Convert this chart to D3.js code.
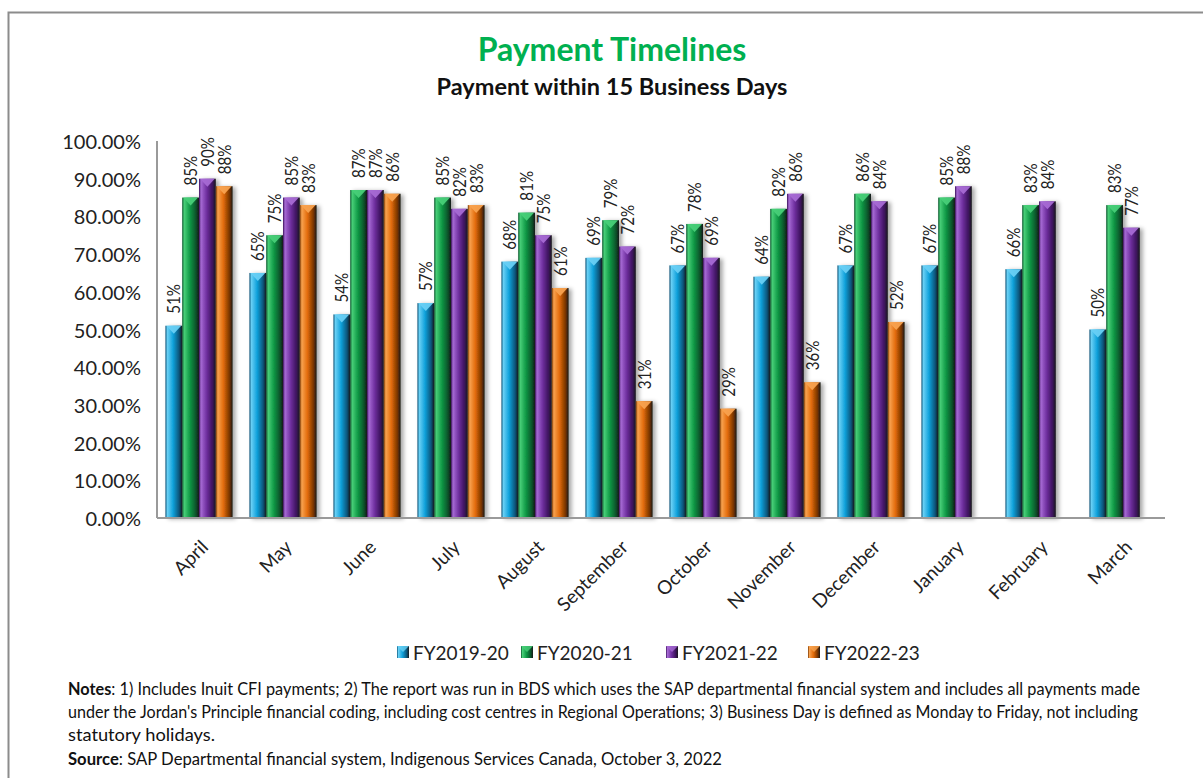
<!DOCTYPE html>
<html>
<head>
<meta charset="utf-8">
<script src="https://cdn.jsdelivr.net/npm/d3@7"></script>
<style>
  body { margin: 0; background: #fff; }
  svg { display: block; font-family: Lato, "Open Sans", sans-serif; }
</style>
</head>
<body>
<svg id="chart" width="1203" height="778"></svg>
<script>
// Chart data
const months = ["April", "May", "June", "July", "August", "September", "October", "November", "December", "January", "February", "March"];
const series = ["FY2019-20", "FY2020-21", "FY2021-22", "FY2022-23"];
const fy2019 = [51, 65, 54, 57, 68, 69, 67, 64, 67, 67, 66, 50];
const fy2020 = [85, 75, 87, 85, 81, 79, 78, 82, 86, 85, 83, 83];
const fy2021 = [90, 85, 87, 82, 75, 72, 69, 86, 84, 88, 84, 77];
const fy2022 = [88, 83, 86, 83, 61, 31, 29, 36, 52, null, null, null];
const yTicks = [0, 10, 20, 30, 40, 50, 60, 70, 80, 90, 100];

const values = [fy2019, fy2020, fy2021, fy2022];
const palette = {
  "FY2019-20": { base: "#12a2dc", light: "#68cff4", dark: "#0a5479" },
  "FY2020-21": { base: "#0f9a46", light: "#48cf78", dark: "#08522a" },
  "FY2021-22": { base: "#7030a0", light: "#a66ad4", dark: "#3a1259" },
  "FY2022-23": { base: "#e36c0a", light: "#f8a24f", dark: "#763400" }
};

const svg = d3.select("#chart");
const width = 1203, height = 778;
const margin = { top: 141, right: 38, bottom: 260, left: 157 };

// Frame
svg.append("path")
  .attr("d", `M8.5,${height + 5} V12.5 H${width + 5}`)
  .attr("fill", "none")
  .attr("stroke", "#8c8c8c")
  .attr("stroke-width", 2);

// Gradients and shadow
const defs = svg.append("defs");
series.forEach((s, i) => {
  const c = palette[s];
  const g = defs.append("linearGradient").attr("id", "grad" + i)
    .attr("x1", "0%").attr("x2", "100%").attr("y1", "0%").attr("y2", "0%");
  g.append("stop").attr("offset", "0%").attr("stop-color", c.dark);
  g.append("stop").attr("offset", "12%").attr("stop-color", c.light);
  g.append("stop").attr("offset", "45%").attr("stop-color", c.base);
  g.append("stop").attr("offset", "82%").attr("stop-color", c.dark);
  g.append("stop").attr("offset", "100%").attr("stop-color", "#1a1a1a");
});
const f = defs.append("filter").attr("id", "shadow")
  .attr("x", "-30%").attr("y", "-10%").attr("width", "180%").attr("height", "120%");
f.append("feDropShadow").attr("dx", 3).attr("dy", 1).attr("stdDeviation", 2)
  .attr("flood-color", "#000").attr("flood-opacity", 0.35);

// Scales
const x = d3.scaleBand()
  .domain(months)
  .range([margin.left, width - margin.right])
  .paddingInner(0.2)
  .paddingOuter(0.1);

const xs = d3.scaleBand()
  .domain(series)
  .range([0, x.bandwidth()]);

const y = d3.scaleLinear()
  .domain([0, 100])
  .range([height - margin.bottom, margin.top]);

// Title
svg.append("text")
  .attr("x", 612).attr("y", 61)
  .attr("text-anchor", "middle")
  .attr("font-size", 32).attr("font-weight", "bold")
  .attr("fill", "#00b050")
  .text("Payment Timelines");

svg.append("text")
  .attr("x", 612).attr("y", 95)
  .attr("text-anchor", "middle")
  .attr("font-size", 23.5).attr("font-weight", "bold")
  .attr("fill", "#111")
  .text("Payment within 15 Business Days");

// Bars
const rows = [];
months.forEach((m, mi) => {
  series.forEach((s, si) => {
    const v = values[si][mi];
    if (v !== null) rows.push({ month: m, series: s, si, value: v });
  });
});

const bw = xs.bandwidth();
const bars = svg.append("g").selectAll("g")
  .data(rows)
  .join("g");

bars.append("rect")
  .attr("x", d => x(d.month) + xs(d.series))
  .attr("y", d => y(d.value))
  .attr("width", bw)
  .attr("height", d => y(0) - y(d.value))
  .attr("fill", d => `url(#grad${d.si})`)
  .attr("filter", "url(#shadow)");

bars.append("path")
  .attr("d", d => {
    const x0 = x(d.month) + xs(d.series), y0 = y(d.value);
    return `M${x0 + 1},${y0} L${x0 + bw - 1},${y0} L${x0 + bw / 2},${y0 + 8} Z`;
  })
  .attr("fill", d => palette[d.series].light)
  .attr("opacity", 0.95);

// Value labels
bars.append("text")
  .attr("transform", d => `translate(${x(d.month) + xs(d.series) + bw / 2},${y(d.value) - 12}) rotate(-90) scale(0.84,1)`)
  .attr("dominant-baseline", "central")
  .attr("font-size", 18)
  .attr("fill", "#222")
  .text(d => d.value + "%");

// Axes
svg.append("line")
  .attr("x1", margin.left).attr("x2", margin.left)
  .attr("y1", margin.top).attr("y2", y(0))
  .attr("stroke", "#9a9a9a").attr("stroke-width", 2);

svg.append("line")
  .attr("x1", margin.left).attr("x2", width - margin.right)
  .attr("y1", y(0)).attr("y2", y(0))
  .attr("stroke", "#9a9a9a").attr("stroke-width", 2);

svg.append("g").selectAll("text")
  .data(yTicks)
  .join("text")
  .attr("x", 141)
  .attr("y", d => y(d))
  .attr("text-anchor", "end")
  .attr("dominant-baseline", "central")
  .attr("font-size", 20)
  .attr("fill", "#222")
  .text(d => d.toFixed(2) + "%");

svg.append("g").selectAll("text")
  .data(months)
  .join("text")
  .attr("transform", d => `translate(${x(d) + x.bandwidth() / 2 + 5},${y(0) + 25}) rotate(-45)`)
  .attr("text-anchor", "end")
  .attr("dominant-baseline", "central")
  .attr("font-size", 19)
  .attr("fill", "#222")
  .text(d => d);

// Legend
const legendX = [397, 521, 666, 808];
const legend = svg.append("g").selectAll("g")
  .data(series)
  .join("g")
  .attr("transform", (d, i) => `translate(${legendX[i]},652)`);

legend.append("rect")
  .attr("x", 0).attr("y", -6)
  .attr("width", 12).attr("height", 12)
  .attr("fill", (d, i) => `url(#grad${i})`);

legend.append("path")
  .attr("d", "M0,-6 L12,-6 L6,0 Z")
  .attr("fill", d => palette[d].light)
  .attr("opacity", 0.8);

legend.append("text")
  .attr("x", 16).attr("y", 0)
  .attr("dominant-baseline", "central")
  .attr("font-size", 19)
  .attr("fill", "#222")
  .text(d => d);

// Notes
const notes = svg.append("g").attr("font-size", 16.5).attr("fill", "#111");

const n1 = notes.append("text").attr("x", 68).attr("y", 695)
  .attr("textLength", 1072).attr("lengthAdjust", "spacingAndGlyphs");
n1.append("tspan").attr("font-weight", "bold").text("Notes");
n1.append("tspan").text(": 1) Includes Inuit CFI payments; 2) The report was run in BDS which uses the SAP departmental financial  system and includes all payments made");

notes.append("text").attr("x", 68).attr("y", 718)
  .attr("textLength", 1070).attr("lengthAdjust", "spacingAndGlyphs")
  .text("under the Jordan's Principle  financial coding, including cost centres in Regional Operations; 3) Business Day is defined as Monday to Friday, not including");

notes.append("text").attr("x", 68).attr("y", 741)
  .attr("textLength", 147).attr("lengthAdjust", "spacingAndGlyphs")
  .text("statutory holidays.");

const src = notes.append("text").attr("x", 68).attr("y", 765)
  .attr("textLength", 654).attr("lengthAdjust", "spacingAndGlyphs");
src.append("tspan").attr("font-weight", "bold").text("Source");
src.append("tspan").text(": SAP Departmental financial system, Indigenous Services Canada, October 3, 2022");
</script>
</body>
</html>
